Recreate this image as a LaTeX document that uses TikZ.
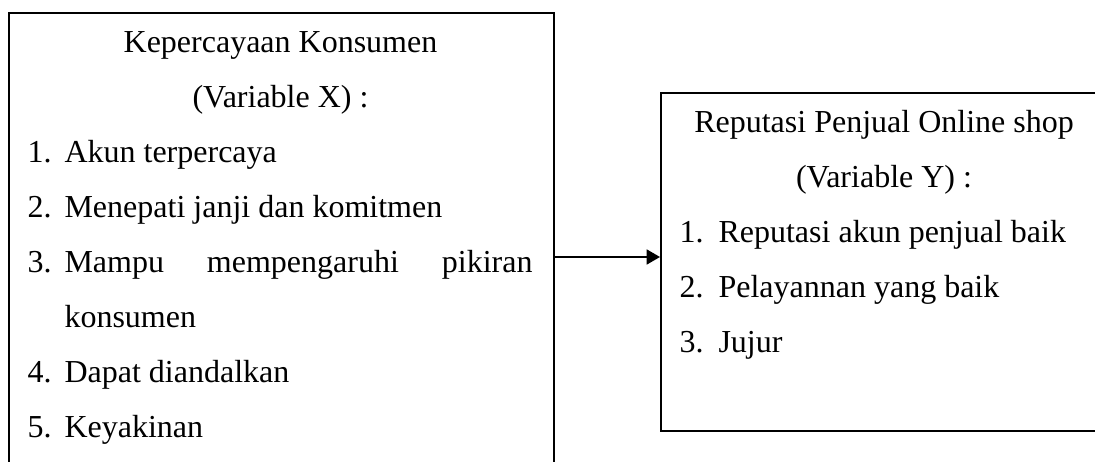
\documentclass[tikz,border=0pt]{standalone}
\usepackage{fontspec}
\setmainfont{Liberation Serif}
\usetikzlibrary{arrows.meta}
\begin{document}
\begin{tikzpicture}[x=0.375pt,y=-0.375pt,
  frame/.style={draw=black,line width=0.75pt,inner sep=0pt,anchor=north west},
  txt/.style={inner sep=0pt,font=\fontsize{12}{14}\selectfont},
  head/.style={txt,anchor=base},
  num/.style={txt,anchor=base west},
  item/.style={txt,anchor=base west},
  link/.style={line width=0.7pt,-{Triangle[length=5pt,width=5.6pt]}}]
\useasboundingbox (0,0) rectangle (1095,462);
\clip (0,0) rectangle (1095,462);

% boxes of the two variables
\node[frame,minimum width=204.375pt,minimum height=180pt] (X) at (8,12) {};
\node[frame,minimum width=168pt,minimum height=126.75pt] (Y) at (660,92) {};

% influence of X on Y
\coordinate (lvl) at (0,257);
\draw[link] (X.east |- lvl) -- (Y.west |- lvl);

% variable X
\node[head] (xh1) at (280.5,53) {Kepercayaan Konsumen};
\node[head] (xh2) at (280.5,108) {(Variable X) :};
\node[num] (xn1) at (27,163) {1.};
\node[item] (xi1) at (64,163) {Akun terpercaya};
\node[num] (xn2) at (27,218) {2.};
\node[item] (xi2) at (64,218) {Menepati janji dan komitmen};
\node[num] (xn3) at (27,273) {3.};
\node[item] (xi3) at (64,273) {\hbox to 175.5pt{Mampu\hfill mempengaruhi\hfill pikiran}};
\node[item] (xi3b) at (64,328) {konsumen};
\node[num] (xn4) at (27,383) {4.};
\node[item] (xi4) at (64,383) {Dapat diandalkan};
\node[num] (xn5) at (27,438) {5.};
\node[item] (xi5) at (64,438) {Keyakinan};

% variable Y
\node[head] (yh1) at (884,133) {Reputasi Penjual Online shop};
\node[head] (yh2) at (884,188) {(Variable Y) :};
\node[num] (yn1) at (679,243) {1.};
\node[item] (yi1) at (718,243) {Reputasi akun penjual baik};
\node[num] (yn2) at (679,298) {2.};
\node[item] (yi2) at (718,298) {Pelayannan yang baik};
\node[num] (yn3) at (679,353) {3.};
\node[item] (yi3) at (718,353) {Jujur};
\end{tikzpicture}
\end{document}
